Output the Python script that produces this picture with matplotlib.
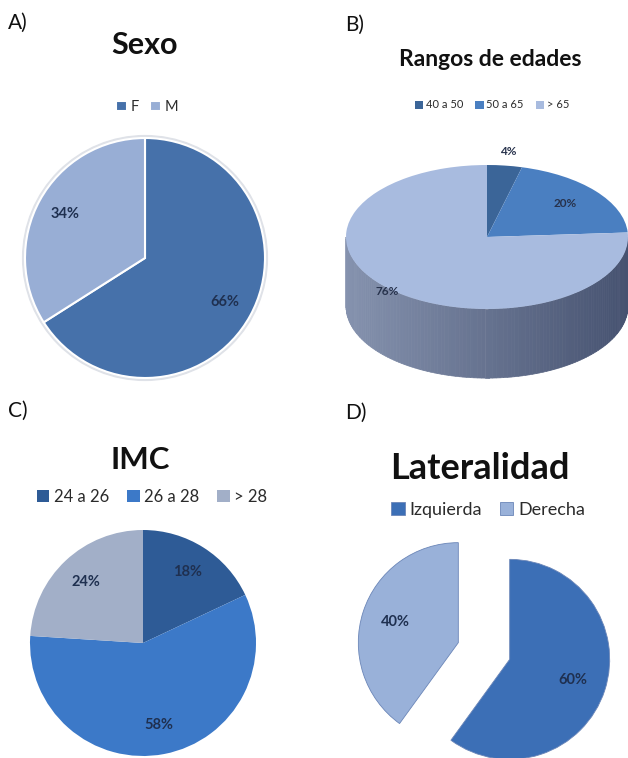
import matplotlib
matplotlib.use("Agg")
import matplotlib.pyplot as plt
import numpy as np
from matplotlib.patches import Polygon, Circle
from matplotlib.colors import to_rgb

plt.rcParams['font.family'] = ['Lato', 'DejaVu Sans']

# ---- data ----
sexo_labels = ['F', 'M']
sexo_vals = [66, 34]
sexo_colors = ['#4671aa', '#98aed5']

edad_labels = ['40 a 50', '50 a 65', '> 65']
edad_vals = [4, 20, 76]
edad_colors = ['#3b6598', '#4a7fc1', '#a8bbdf']

imc_labels = ['24 a 26', '26 a 28', '> 28']
imc_vals = [18, 58, 24]
imc_colors = ['#2e5b96', '#3c79c8', '#a2afc8']

lat_labels = ['Izquierda', 'Derecha']
lat_vals = [60, 40]
lat_colors = ['#3c6fb6', '#99b1d9']

W, H = 628, 758
fig = plt.figure(figsize=(W / 100, H / 100), dpi=100)


def make_axes(cx, cy, sx, sy, xlim, ylim):
    # axes placed so that data (0,0) sits at pixel (cx, cy) with sx/sy px per unit
    left = (cx + xlim[0] * sx) / W
    width = (xlim[1] - xlim[0]) * sx / W
    bottom = (H - (cy - ylim[0] * sy)) / H
    height = (ylim[1] - ylim[0]) * sy / H
    return fig.add_axes([left, bottom, width, height])


def finish(ax, xlim, ylim):
    ax.set_aspect('auto')
    ax.set_xlim(xlim)
    ax.set_ylim(ylim)
    ax.axis('off')


def legend(ax, wedges, labels, x, y, size, cs=1.0):
    ax.legend(wedges, labels, ncol=len(labels), loc='center',
              bbox_to_anchor=(x / W, 1 - y / H), bbox_transform=fig.transFigure,
              frameon=False, fontsize=size, handlelength=0.75, handleheight=0.75,
              handletextpad=0.25, columnspacing=cs, labelcolor='#2b2b2b')


def txt(x, y, s, size, weight='normal', ha='center'):
    fig.text(x / W, 1 - y / H, s, fontsize=size, fontweight=weight,
             ha=ha, va='center', color='#111111')


pct_style = dict(fontsize=10.5, color='#1f3050', fontweight='bold')

# ---- A) Sexo ----
lim = (-1.3, 1.3)
ax = make_axes(145, 258, 120, 120, lim, lim)
ax.add_patch(Circle((0, 0), 1.02, color='#dfe2e8', zorder=0))
w, _, at = ax.pie(sexo_vals, colors=sexo_colors, startangle=90, counterclock=False,
                  autopct='%d%%', pctdistance=0.76,
                  wedgeprops=dict(edgecolor='white', linewidth=1.5),
                  textprops=pct_style)
finish(ax, lim, lim)
legend(ax, w, sexo_labels, 147, 107, 10.5, cs=0.8)
txt(8, 23, 'A)', 15, ha='left')
txt(145, 45, 'Sexo', 22, 'bold')

# ---- B) Rangos de edades (3D look) ----
xl, yl = (-1.05, 1.05), (-2.05, 1.4)
sx, sy, depth = 141, 72, 0.96
ax = make_axes(487, 237, sx, sy, xl, yl)
c0, c1 = np.array(to_rgb('#8592ae')), np.array(to_rgb('#465270'))
th = np.linspace(np.pi, 2 * np.pi, 120)
for a, b in zip(th[:-1], th[1:]):
    f = (np.cos(a) + 1) / 2
    col = c0 * (1 - f) + c1 * f
    ax.add_patch(Polygon([(np.cos(a), np.sin(a)), (np.cos(b), np.sin(b)),
                          (np.cos(b), np.sin(b) - depth), (np.cos(a), np.sin(a) - depth)],
                         closed=True, facecolor=col, edgecolor=col, lw=0.5, zorder=0))
w, _ = ax.pie(edad_vals, colors=edad_colors, startangle=90, counterclock=False,
              wedgeprops=dict(edgecolor='none'))
pct_dist = [1.2, 0.72, 1.03]
for wd, v, d in zip(w, edad_vals, pct_dist):
    ang = np.deg2rad((wd.theta1 + wd.theta2) / 2)
    ax.text(d * np.cos(ang), d * np.sin(ang), f'{v}%', ha='center', va='center',
            fontsize=8.5, color='#27324c', fontweight='bold')
finish(ax, xl, yl)
legend(ax, w, edad_labels, 492, 105, 8, cs=1.1)
txt(345, 25, 'B)', 15, ha='left')
txt(490, 60, 'Rangos de edades', 16.5, 'bold')

# ---- C) IMC ----
lim = (-1.3, 1.3)
ax = make_axes(143, 643, 113, 113, lim, lim)
w, _, at = ax.pie(imc_vals, colors=imc_colors, startangle=90, counterclock=False,
                  autopct='%d%%', pctdistance=0.74,
                  wedgeprops=dict(edgecolor='none'),
                  textprops=pct_style)
finish(ax, lim, lim)
legend(ax, w, imc_labels, 152, 497, 12, cs=1.1)
txt(8, 411, 'C)', 15, ha='left')
txt(140, 460, 'IMC', 22.5, 'bold')

# ---- D) Lateralidad (exploded) ----
lim = (-1.4, 1.4)
ax = make_axes(484, 651, 100, 100, lim, lim)
w, _, at = ax.pie(lat_vals, colors=lat_colors, startangle=90, counterclock=False,
                  explode=[0.27, 0.27], autopct='%d%%', pctdistance=0.66,
                  wedgeprops=dict(edgecolor='#6b86b8', linewidth=0.6),
                  textprops=pct_style)
finish(ax, lim, lim)
legend(ax, w, lat_labels, 488, 510, 13, cs=1.0)
txt(345, 413, 'D)', 15, ha='left')
txt(480, 468, 'Lateralidad', 26, 'bold')

fig.savefig('out.png', dpi=100)
